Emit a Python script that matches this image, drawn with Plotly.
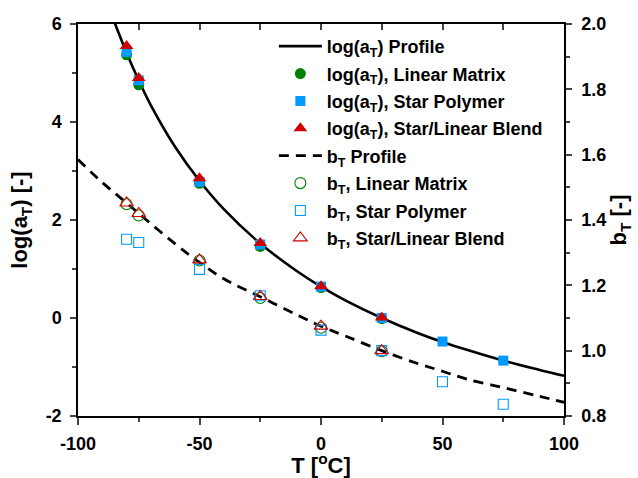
import plotly.graph_objects as go

# ---- data ----
T_prof_a = [-85.5, -84, -80, -75, -70, -60, -50, -40, -25, -10, 0, 10, 25, 40, 50, 60, 75, 90, 100]
logaT_prof = [6.1, 5.91, 5.41, 4.85, 4.34, 3.49, 2.80, 2.22, 1.52, 0.96, 0.64, 0.36, 0.0,
              -0.31, -0.49, -0.65, -0.87, -1.06, -1.18]

T_lin = [-80, -75, -50, -25, 0, 25]
logaT_lin = [5.37, 4.76, 2.75, 1.46, 0.62, -0.01]
T_star = [-80, -75, -50, -25, 0, 25, 50, 75]
logaT_star = [5.43, 4.85, 2.78, 1.50, 0.64, 0.0, -0.48, -0.87]
T_blend = [-80, -75, -50, -25, 0, 25]
logaT_blend = [5.55, 4.90, 2.85, 1.53, 0.65, 0.01]

T_prof_b = [-100, -90, -80, -75, -60, -50, -40, -25, -10, 0, 10, 25, 40, 50, 60, 75, 90, 100]
bT_prof = [1.585, 1.515, 1.452, 1.42, 1.327, 1.27, 1.22, 1.165, 1.11, 1.075, 1.045, 1.0,
           0.96, 0.937, 0.913, 0.887, 0.86, 0.842]

bT_lin = [1.448, 1.414, 1.276, 1.161, 1.07, 0.998]
bT_star = [1.341, 1.331, 1.249, 1.168, 1.063, 1.0, 0.905, 0.836]
bT_blend = [1.452, 1.42, 1.278, 1.166, 1.075, 1.0]

x_ticks = [-100, -50, 0, 50, 100]
x_labels = ["-100", "-50", "0", "50", "100"]
y_ticks = [-2, 0, 2, 4, 6]
y_labels = ["-2", "0", "2", "4", "6"]
y2_ticks = [0.8, 1.0, 1.2, 1.4, 1.6, 1.8, 2.0]
y2_labels = ["0.8", "1.0", "1.2", "1.4", "1.6", "1.8", "2.0"]

GREEN = "#008000"
BLUE = "#0099FF"
RED = "#D00000"
FONT = "Liberation Sans"

fig = go.Figure()

def add(tr, grp):
    tr.legendgroup = grp
    fig.add_trace(tr)

add(go.Scatter(x=T_prof_a, y=logaT_prof, mode="lines", line=dict(color="black", width=2.6, shape="spline"),
               name="log(a<sub>T</sub>) Profile"), "g1")
add(go.Scatter(x=T_lin, y=logaT_lin, mode="markers",
               marker=dict(symbol="circle", size=11, color=GREEN, line=dict(width=0)),
               name="log(a<sub>T</sub>), Linear Matrix"), "g2")
add(go.Scatter(x=T_star, y=logaT_star, mode="markers",
               marker=dict(symbol="square", size=10, color=BLUE, line=dict(width=0)),
               name="log(a<sub>T</sub>), Star Polymer"), "g3")
add(go.Scatter(x=T_blend, y=logaT_blend, mode="markers",
               marker=dict(symbol="triangle-up", size=12, color=RED, line=dict(width=0)),
               name="log(a<sub>T</sub>), Star/Linear Blend"), "g4")

add(go.Scatter(x=T_prof_b, y=bT_prof, mode="lines", yaxis="y2",
               line=dict(color="black", width=2.8, dash="10px,7px", shape="spline"),
               name="b<sub>T</sub> Profile"), "g5")
add(go.Scatter(x=T_lin, y=bT_lin, mode="markers", yaxis="y2",
               marker=dict(symbol="circle-open", size=11, color=GREEN, line=dict(width=1.1, color=GREEN)),
               name="b<sub>T</sub>, Linear Matrix"), "g6")
add(go.Scatter(x=T_star, y=bT_star, mode="markers", yaxis="y2",
               marker=dict(symbol="square-open", size=10, color=BLUE, line=dict(width=1.1, color=BLUE)),
               name="b<sub>T</sub>, Star Polymer"), "g7")
add(go.Scatter(x=T_blend, y=bT_blend, mode="markers", yaxis="y2",
               marker=dict(symbol="triangle-up-open", size=12, color=RED, line=dict(width=1.1, color=RED)),
               name="b<sub>T</sub>, Star/Linear Blend"), "g8")

# invisible trace to carry the top axis
fig.add_trace(go.Scatter(x=[0], y=[0], xaxis="x2", mode="markers", marker=dict(opacity=0),
                         hoverinfo="skip", showlegend=False))

tf = dict(family=FONT, size=18, color="black", weight="bold")
ttf = dict(family=FONT, size=22, color="black", weight="bold")

fig.update_layout(
    width=638, height=478,
    margin=dict(l=78, r=74, t=24, b=62, autoexpand=False),
    paper_bgcolor="white", plot_bgcolor="white",
    font=dict(family=FONT, size=18, color="black", weight="bold"),
    showlegend=True,
    legend=dict(x=0.403, y=0.99, xanchor="left", yanchor="top", bgcolor="rgba(0,0,0,0)",
                borderwidth=0, itemwidth=43, font=dict(family=FONT, size=18, color="black", weight="bold"),
                tracegroupgap=1),
    xaxis=dict(range=[-100, 100], tickvals=x_ticks, ticktext=x_labels, ticks="outside", ticklen=7, tickwidth=1.5,
               showline=True, linecolor="black", linewidth=1.5, showgrid=False, zeroline=False,
               tickfont=tf, ticklabelstandoff=4, automargin=False,
               minor=dict(dtick=25, tick0=-100, ticks="outside", ticklen=4, tickwidth=1.5, showgrid=False),
               title=dict(text="T [<sup>o</sup>C]", font=ttf, standoff=11)),
    xaxis2=dict(range=[-100, 100], overlaying="x", side="top", anchor="y", tickvals=list(range(-100, 101, 25)),
                ticks="inside", ticklen=6, tickwidth=1.5, showticklabels=False, automargin=False,
                showline=True, linecolor="black", linewidth=1.5, showgrid=False, zeroline=False),
    yaxis=dict(range=[-2, 6], tickvals=y_ticks, ticktext=y_labels, ticks="outside", ticklen=6, tickwidth=1.5,
               showline=True, linecolor="black", linewidth=1.5, showgrid=False, zeroline=False,
               tickfont=tf, ticklabelstandoff=5, automargin=False,
               minor=dict(dtick=1, tick0=-2, ticks="outside", ticklen=4, tickwidth=1.5, showgrid=False),
               title=dict(text="log(a<sub>T</sub>) [-]", font=ttf, standoff=12)),
    yaxis2=dict(range=[0.8, 2.0], overlaying="y", side="right", anchor="x", tickvals=y2_ticks, ticktext=y2_labels,
                ticks="outside", ticklen=6, tickwidth=1.5, automargin=False,
                showline=True, linecolor="black", linewidth=1.5, showgrid=False, zeroline=False,
                tickfont=tf, ticklabelstandoff=6,
                minor=dict(dtick=0.1, tick0=0.8, ticks="outside", ticklen=4, tickwidth=1.5, showgrid=False),
                title=dict(text="b<sub>T</sub> [-]", font=ttf, standoff=4)),
)

fig.write_html("out.html", config={"displayModeBar": False},
               post_script="document.body.style.margin='0';document.body.style.overflow='hidden';")
